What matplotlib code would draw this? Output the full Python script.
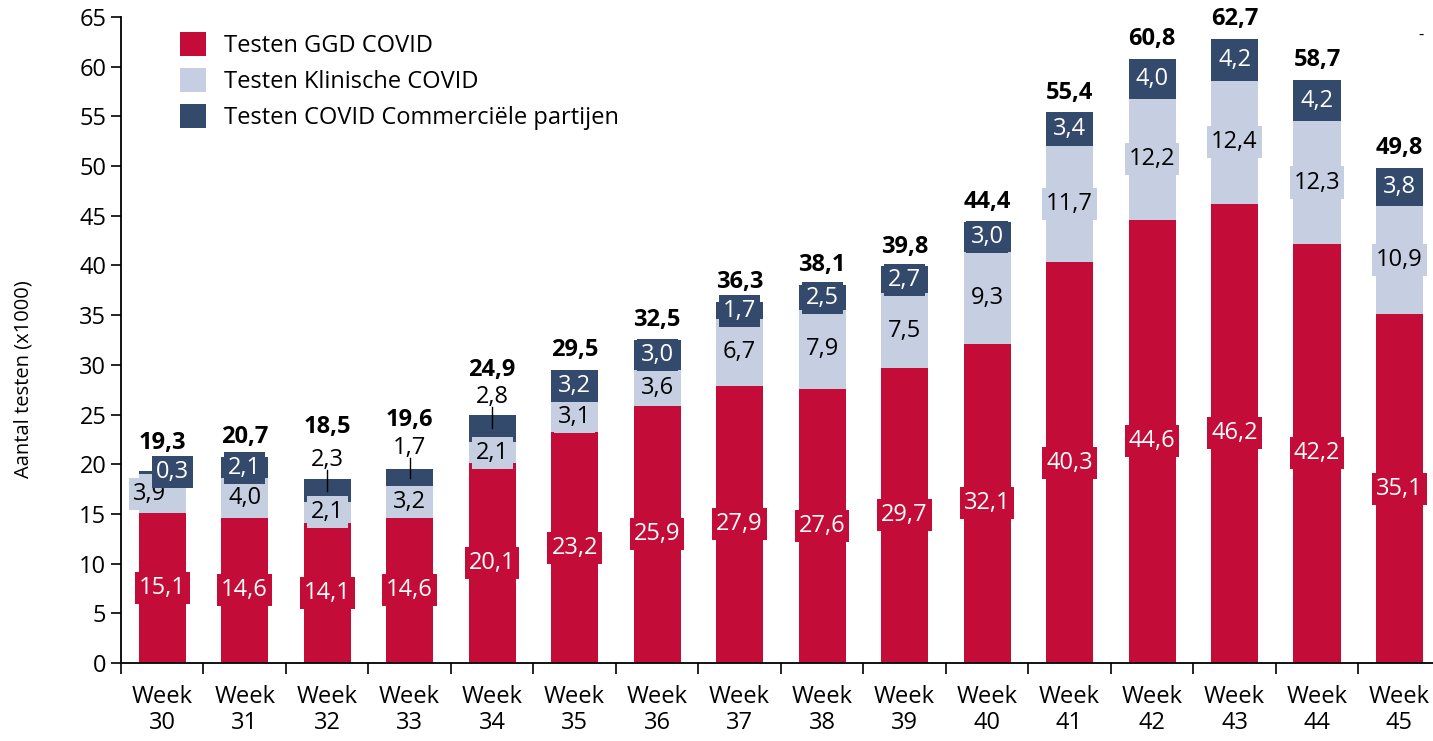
import matplotlib
matplotlib.use("Agg")
import matplotlib.pyplot as plt
import numpy as np

plt.rcParams['font.family'] = ['Open Sans', 'DejaVu Sans']

# data (x1000 testen per week)
weken = ["30", "31", "32", "33", "34", "35", "36", "37",
         "38", "39", "40", "41", "42", "43", "44", "45"]
ggd = [15.1, 14.6, 14.1, 14.6, 20.1, 23.2, 25.9, 27.9,
       27.6, 29.7, 32.1, 40.3, 44.6, 46.2, 42.2, 35.1]
klinisch = [3.9, 4.0, 2.1, 3.2, 2.1, 3.1, 3.6, 6.7,
            7.9, 7.5, 9.3, 11.7, 12.2, 12.4, 12.3, 10.9]
commercieel = [0.3, 2.1, 2.3, 1.7, 2.8, 3.2, 3.0, 1.7,
               2.5, 2.7, 3.0, 3.4, 4.0, 4.2, 4.2, 3.8]
totaal = [19.3, 20.7, 18.5, 19.6, 24.9, 29.5, 32.5, 36.3,
          38.1, 39.8, 44.4, 55.4, 60.8, 62.7, 58.7, 49.8]

ROOD = '#C40C39'
LICHT = '#C6CFE1'
DONKER = '#344A6C'

def fmt(v):
    return f"{v:.1f}".replace('.', ',')

fig = plt.figure(figsize=(14.33, 7.41), dpi=100)
ax = fig.add_axes([0.0844, 0.1053, 0.921, 0.8717])

x = np.arange(len(weken))
w = 0.57
ggd_a = np.array(ggd)
kl_a = np.array(klinisch)
co_a = np.array(commercieel)

ax.bar(x, ggd_a, w, color=ROOD, label='Testen GGD COVID', zorder=2)
ax.bar(x, kl_a, w, bottom=ggd_a, color=LICHT, label='Testen Klinische COVID', zorder=2)
ax.bar(x, co_a, w, bottom=ggd_a + kl_a, color=DONKER,
       label='Testen COVID Commerciële partijen', zorder=2)

fs = 17
def boxlabel(xx, yy, txt, fc, tc):
    ax.text(xx, yy, txt, ha='center', va='center', fontsize=fs, color=tc, zorder=4,
            bbox=dict(boxstyle='square,pad=0.17', fc=fc, ec='none'))

# labels met lijntje (kleine segmenten)
leader = {2: 1.9, 3: 2.1, 4: 1.8}
# extra hoogte totaal-label
extra = {0: 0.8, 2: 3.2, 3: 3.0, 4: 2.5}

for i in x:
    top = ggd_a[i] + kl_a[i] + co_a[i]
    boxlabel(i, ggd_a[i] / 2, fmt(ggd[i]), ROOD, 'white')
    kx = i - 0.15 if i == 0 else i
    boxlabel(kx, ggd_a[i] + kl_a[i] / 2, fmt(klinisch[i]), LICHT, 'black')
    cmid = ggd_a[i] + kl_a[i] + co_a[i] / 2
    if i in leader:
        ly = top + leader[i]
        ax.plot([i, i], [cmid, ly - 1.0], color='black', lw=1, zorder=3)
        ax.text(i, ly, fmt(commercieel[i]), ha='center', va='center',
                fontsize=fs, color='black', zorder=4)
    elif i == 0:
        boxlabel(i + 0.13, top - 0.1, fmt(commercieel[i]), DONKER, 'white')
    else:
        boxlabel(i, cmid, fmt(commercieel[i]), DONKER, 'white')
    ax.text(i, top + 2.0 + extra.get(i, 0), fmt(totaal[i]), ha='center', va='center',
            fontsize=fs, fontweight='bold', color='black', zorder=4)

ax.set_xlim(-0.5, len(weken) - 0.5)
ax.set_ylim(0, 65)
ax.set_yticks(np.arange(0, 66, 5))
ax.set_xticks(x)
ax.set_xticklabels(["Week\n" + wk for wk in weken], fontsize=fs, linespacing=1.1)
ax.set_xticks(np.arange(-0.5, len(weken), 1), minor=True)
ax.tick_params(axis='x', which='major', length=0, pad=16)
ax.tick_params(axis='x', which='minor', length=8, width=1.2, direction='out')
ax.tick_params(axis='y', labelsize=fs, length=7, width=1.2, direction='out')
for s in ['top', 'right']:
    ax.spines[s].set_visible(False)
for s in ['left', 'bottom']:
    ax.spines[s].set_linewidth(1.3)
ax.spines['left'].set_bounds(0, 65)

ax.set_ylabel('Aantal testen (x1000)', fontsize=14.5)
ax.yaxis.set_label_coords(-0.066, 0.44)

ax.legend(loc='upper left', bbox_to_anchor=(0.029, 1.01), frameon=False, fontsize=fs,
          handlelength=1.1, handleheight=1.2, labelspacing=0.42, handletextpad=0.75)

ax.text(0.985, 0.965, '-', transform=ax.transAxes, fontsize=12, ha='center')

fig.savefig('out.png', dpi=100)
